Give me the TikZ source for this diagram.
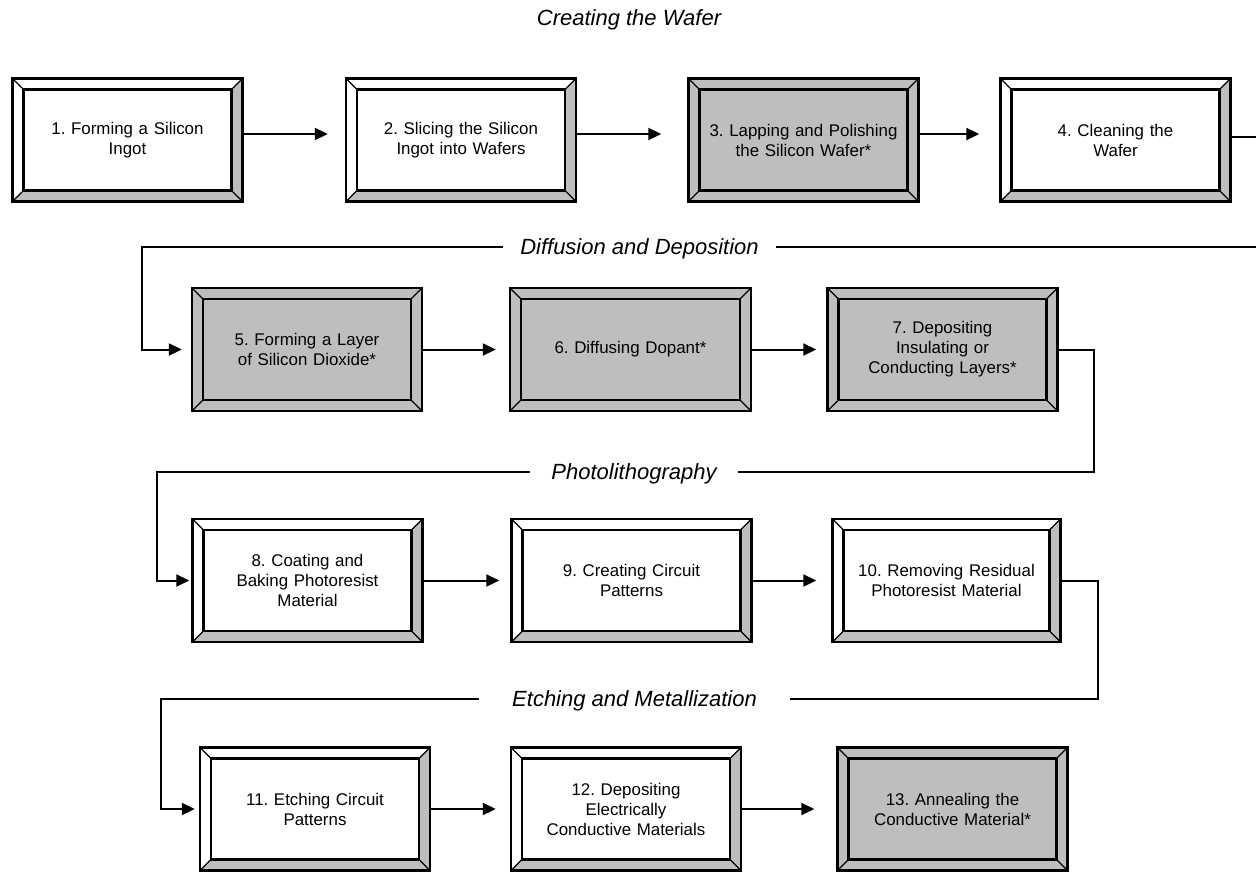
\documentclass[tikz,border=0pt]{standalone}
\usepackage{fontspec}
\setmainfont{Liberation Sans}
\usetikzlibrary{arrows.meta}
\definecolor{bevelgray}{RGB}{188,190,192}
\frenchspacing

% bevelled frame, drawn inside the node path
\newcommand{\stepbevel}[1]{%
  \path (path picture bounding box.north west) coordinate (onw)
        (path picture bounding box.north east) coordinate (one)
        (path picture bounding box.south west) coordinate (osw)
        (path picture bounding box.south east) coordinate (ose)
        ([shift={(11pt,-11pt)}]onw) coordinate (inw)
        ([shift={(-11pt,-11pt)}]one) coordinate (ine)
        ([shift={(11pt,11pt)}]osw) coordinate (isw)
        ([shift={(-11pt,11pt)}]ose) coordinate (ise);
  \fill[#1] (osw) -- (onw) -- (one) -- (ine) -- (inw) -- (isw) -- cycle;
  \fill[bevelgray] (osw) -- (ose) -- (one) -- (ine) -- (ise) -- (isw) -- cycle;
  \draw[line width=1.2pt] (onw) -- (inw) (one) -- (ine) (osw) -- (isw) (ose) -- (ise);
  \draw[line width=2.2pt] (inw) rectangle (ise);
}

\begin{document}
\begin{tikzpicture}[x=1pt,y=-1pt]
       \tikzstyle{stepbox}=[draw, line width=2.4pt, minimum width=230pt, minimum height=123pt, text width=205pt, align=center, inner sep=0pt, font=\fontsize{16.9}{20}\selectfont]
       \tikzstyle{whitestep}=[stepbox, fill=white, path picture={\stepbevel{white}}]
       \tikzstyle{graystep}=[stepbox, fill=bevelgray, path picture={\stepbevel{bevelgray}}]
       \tikzstyle{phase}=[font=\fontsize{22}{26}\selectfont\itshape, text height=15.8pt, text depth=0pt, inner xsep=0pt, inner ysep=2pt]
       \tikzstyle{flow}=[line width=2pt]
       \tikzstyle{arrowflow}=[flow, -{Triangle[length=13pt,width=12pt]}]
       \useasboundingbox (0,0) rectangle (1256,872);
       \clip (0,0) rectangle (1256,872);
       % Creating the Wafer
       \node[phase] (wafer) at (629,18) {Creating the Wafer};
       \node[whitestep] (s1) at (127.5,140) {1. Forming a Silicon\\Ingot};
       \node[whitestep] (s2) at (461,140) {2. Slicing the Silicon\\Ingot into Wafers};
       \node[graystep] (s3) at (803.5,140) {3. Lapping and Polishing\\the Silicon Wafer*};
       \node[whitestep] (s4) at (1115.5,140) {4. Cleaning the\\Wafer};
       % Diffusion and Deposition
       \node[phase, minimum width=273pt] (diffusion) at (639.5,247) {Diffusion and Deposition};
       \node[graystep] (s5) at (307,349.5) {5. Forming a Layer\\of Silicon Dioxide*};
       \node[graystep, minimum width=241pt] (s6) at (630.5,349.5) {6. Diffusing Dopant*};
       \node[graystep] (s7) at (942.5,349.5) {7. Depositing\\Insulating or\\Conducting Layers*};
       % Photolithography
       \node[phase, minimum width=208pt] (photo) at (634,472) {Photolithography};
       \node[whitestep] (s8) at (307.5,580.5) {8. Coating and\\Baking Photoresist\\Material};
       \node[whitestep, minimum width=240pt] (s9) at (631.5,580.5) {9. Creating Circuit\\Patterns};
       \node[whitestep, minimum width=228pt] (s10) at (946.5,580.5) {10. Removing Residual\\Photoresist Material};
       % Etching and Metallization
       \node[phase, minimum width=311pt] (etching) at (634.5,699) {Etching and Metallization};
       \node[whitestep] (s11) at (315,809) {11. Etching Circuit\\Patterns};
       \node[whitestep] (s12) at (626,809) {12. Depositing\\Electrically\\Conductive Materials};
       \node[graystep] (s13) at (952.5,809) {13. Annealing the\\Conductive Material*};

       \draw[arrowflow, shorten >=17pt] ([yshift=6pt]s1.east) -- ([yshift=6pt]s2.west);
       \draw[arrowflow, shorten >=26pt] ([yshift=6pt]s2.east) -- ([yshift=6pt]s3.west);
       \draw[arrowflow, shorten >=20pt] ([yshift=6pt]s3.east) -- ([yshift=6pt]s4.west);
       \draw[flow] ([yshift=3pt]s4.east) -- ++(40,0) |- (diffusion.east);
       \draw[arrowflow, shorten >=9pt] (diffusion.west) -| ([xshift=-49pt]s5.west) -- (s5.west);

       \draw[arrowflow, shorten >=13pt] (s5.east) -- (s6.west);
       \draw[arrowflow, shorten >=10pt] (s6.east) -- (s7.west);
       \draw[flow] (s7.east) -- ++(35,0) |- (photo.east);
       \draw[arrowflow, shorten >=2pt] (photo.west) -| ([xshift=-34pt]s8.west) -- (s8.west);

       \draw[arrowflow, shorten >=11pt] (s8.east) -- (s9.west);
       \draw[arrowflow, shorten >=15pt] (s9.east) -- (s10.west);
       \draw[flow] (s10.east) -- ++(36,0) |- (etching.east);
       \draw[arrowflow, shorten >=4pt] (etching.west) -| ([xshift=-38pt]s11.west) -- (s11.west);

       \draw[arrowflow, shorten >=14pt] (s11.east) -- (s12.west);
       \draw[arrowflow, shorten >=22pt] (s12.east) -- (s13.west);
      \end{tikzpicture}
\end{document}
